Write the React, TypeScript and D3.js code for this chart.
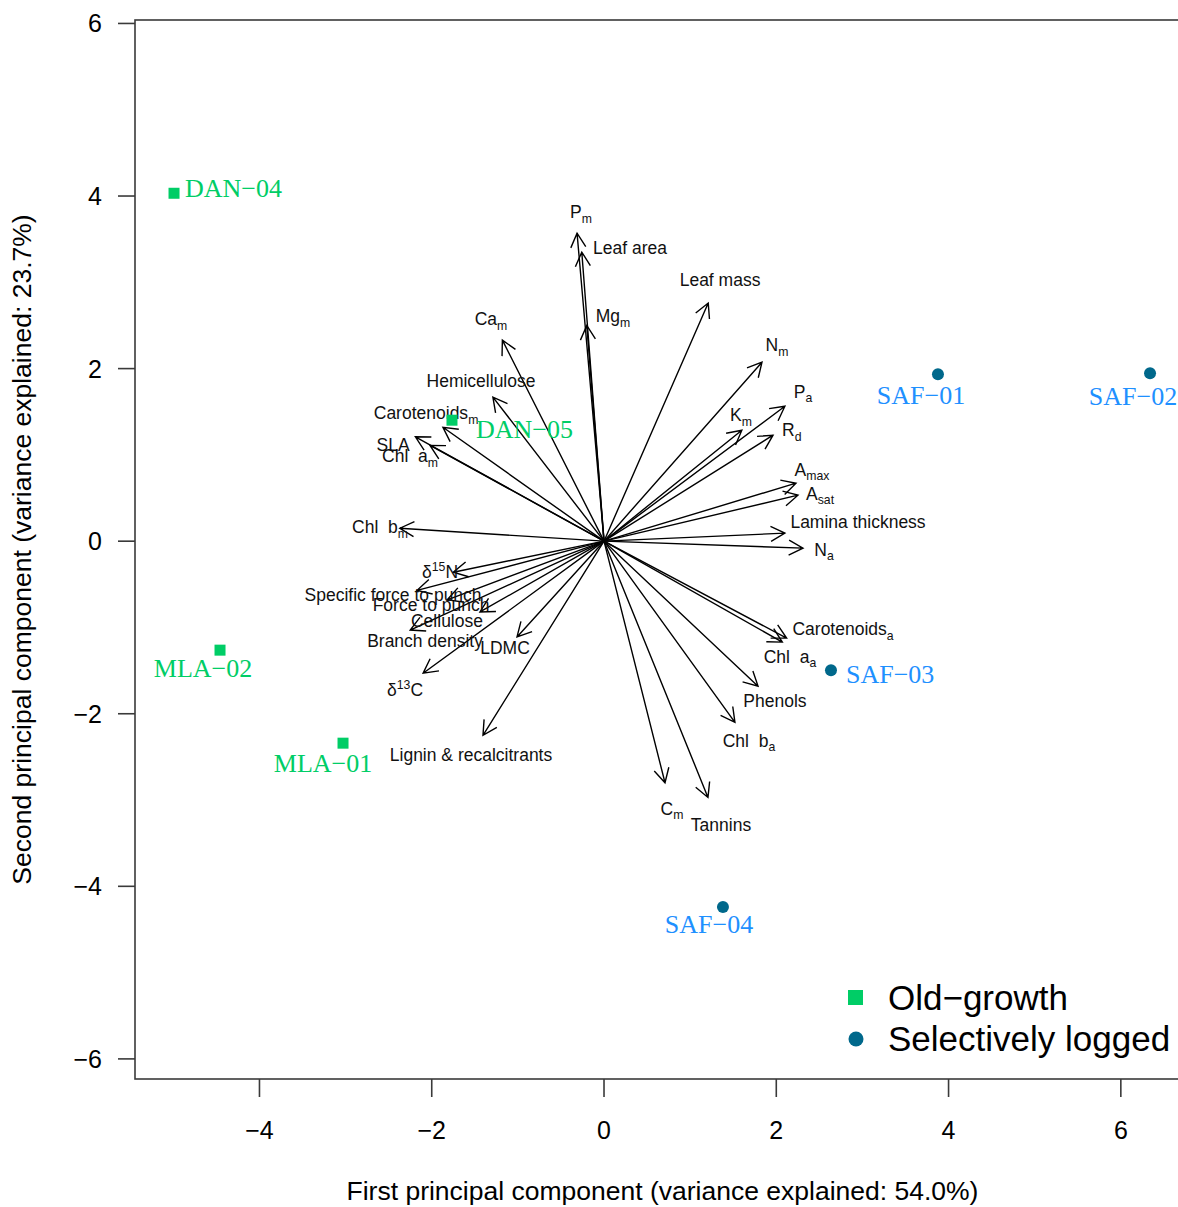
import React from "react";
import * as d3 from "d3";

// ---- Trait loadings (arrows) ----
const traitNames = [
  "P_{m}", "Leaf area", "Mg_{m}", "Leaf mass", "Ca_{m}", "Hemicellulose",
  "Carotenoids_{m}", "SLA", "Chl\u00A0\u00A0a_{m}", "Chl\u00A0\u00A0b_{m}", "δ^{15}N",
  "Specific force to punch", "Force to punch", "Cellulose", "Branch density", "LDMC",
  "δ^{13}C", "Lignin & recalcitrants", "N_{m}", "P_{a}", "K_{m}", "R_{d}",
  "A_{max}", "A_{sat}", "Lamina thickness", "N_{a}", "Carotenoids_{a}",
  "Chl\u00A0\u00A0a_{a}", "Phenols", "Chl\u00A0\u00A0b_{a}", "C_{m}", "Tannins",
];
const traitPC1 = [
  -0.313, -0.258, -0.2, 1.21, -1.18, -1.29,
  -1.87, -2.19, -2.02, -2.37, -1.75,
  -2.17, -1.82, -2.25, -1.44, -1.01,
  -2.1, -1.405, 1.834, 2.1, 1.6, 1.962,
  2.229, 2.252, 2.1, 2.31, 2.12,
  2.07, 1.788, 1.52, 0.708, 1.207,
];
const traitPC2 = [
  3.57, 3.35, 2.5, 2.76, 2.33, 1.67,
  1.32, 1.21, 1.11, 0.15, -0.36,
  -0.57, -0.68, -1.03, -0.82, -1.11,
  -1.53, -2.25, 2.074, 1.564, 1.286, 1.228,
  0.672, 0.533, 0.093, -0.081, -1.124,
  -1.17, -1.68, -2.1, -2.8, -2.97,
];
// label centres (data units)
const traitLabelPC1 = [
  -0.267, 0.302, 0.104, 1.347, -1.312, -1.428,
  -2.066, -2.449, -2.252, -2.6, -1.904,
  -2.449, -2.008, -1.823, -2.078, -1.149,
  -2.31, -1.544, 2.008, 2.31, 1.59, 2.18,
  2.415, 2.508, 2.949, 2.554, 2.775,
  2.159, 1.985, 1.683, 0.789, 1.358,
];
const traitLabelPC2 = [
  3.812, 3.395, 2.607, 3.024, 2.572, 1.854,
  1.483, 1.112, 0.985, 0.162, -0.359,
  -0.626, -0.742, -0.927, -1.159, -1.24,
  -1.727, -2.48, 2.271, 1.727, 1.46, 1.286,
  0.823, 0.545, 0.22, -0.104, -1.02,
  -1.344, -1.854, -2.317, -3.105, -3.291,
];

// ---- Site scores ----
const siteNames = ["DAN−04", "DAN−05", "MLA−02", "MLA−01", "SAF−01", "SAF−02", "SAF−03", "SAF−04"];
const siteGroup = ["old", "old", "old", "old", "logged", "logged", "logged", "logged"];
const sitePC1 = [-4.992, -1.765, -4.458, -3.03, 3.877, 6.339, 2.635, 1.381];
const sitePC2 = [4.032, 1.402, -1.263, -2.341, 1.935, 1.947, -1.495, -4.241];
const siteLabelPC1 = [-4.864, -1.486, -4.655, -3.262, 3.68, 6.141, 2.809, 1.219];
const siteLabelPC2 = [3.986, 1.194, -1.576, -2.677, 1.587, 1.576, -1.645, -4.542];
const siteLabelAnchor = ["start", "start", "middle", "middle", "middle", "middle", "start", "middle"];

const xTicks = [-4, -2, 0, 2, 4, 6];
const yTicks = [-6, -4, -2, 0, 2, 4, 6];

const legendLabels = ["Old−growth", "Selectively logged"];
const xTitle = "First principal component (variance explained: 54.0%)";
const yTitle = "Second principal component (variance explained: 23.7%)";

const GREEN = "#00CD66";
const TEAL = "#00688B";
const BLUE = "#1E90FF";
const SANS = "'Liberation Sans', Arial, Helvetica, sans-serif";
const SERIF = "'Liberation Serif', 'Times New Roman', serif";

function rich(label: string, base: number) {
  const out: React.ReactNode[] = [];
  const re = /([_^])\{([^}]*)\}/g;
  let last = 0;
  let shift = 0;
  let k = 0;
  let m: RegExpExecArray | null;
  while ((m = re.exec(label))) {
    if (m.index > last) {
      out.push(
        <tspan key={k++} dy={-shift} fontSize={base}>
          {label.slice(last, m.index)}
        </tspan>
      );
      shift = 0;
    }
    const d = m[1] === "_" ? base * 0.24 : -base * 0.42;
    out.push(
      <tspan key={k++} dy={d - shift} fontSize={base * 0.7}>
        {m[2]}
      </tspan>
    );
    shift = d;
    last = re.lastIndex;
  }
  if (last < label.length) {
    out.push(
      <tspan key={k++} dy={-shift} fontSize={base}>
        {label.slice(last)}
      </tspan>
    );
  }
  return out;
}

export default function App() {
  const W = 1178;
  const H = 1207;
  const left = 135, right = 1190, top = 20, bottom = 1079;
  const x = d3.scaleLinear().domain([-5.445, 6.803]).range([left, right]);
  const y = d3.scaleLinear().domain([-6.233, 6.04]).range([bottom, top]);
  const fmt = (v: number) => String(v).replace("-", "−");

  const ox = x(0), oy = y(0);
  const headLen = 16;
  const headAng = (28 * Math.PI) / 180;

  const arrows = traitNames.map((name, i) => {
    const tx = x(traitPC1[i]);
    const ty = y(traitPC2[i]);
    const ang = Math.atan2(ty - oy, tx - ox);
    const a1 = ang + Math.PI - headAng;
    const a2 = ang + Math.PI + headAng;
    const p = d3.path();
    p.moveTo(ox, oy);
    p.lineTo(tx, ty);
    p.moveTo(tx + headLen * Math.cos(a1), ty + headLen * Math.sin(a1));
    p.lineTo(tx, ty);
    p.lineTo(tx + headLen * Math.cos(a2), ty + headLen * Math.sin(a2));
    return { name, d: p.toString(), lx: x(traitLabelPC1[i]), ly: y(traitLabelPC2[i]) };
  });

  const fs = 17.5;

  return (
    <svg
      width={W}
      height={H}
      style={{ position: "absolute", left: 0, top: 0, background: "#fff" }}
    >
      <rect x={0} y={0} width={W} height={H} fill="#fff" />
      {/* frame */}
      <rect x={left} y={top} width={right - left} height={bottom - top} fill="none" stroke="#3a3a3a" strokeWidth={1.6} />
      {/* y axis */}
      {yTicks.map((t) => (
        <g key={"y" + t}>
          <line x1={left - 17} x2={left} y1={y(t)} y2={y(t)} stroke="#3a3a3a" strokeWidth={1.6} />
          <text x={left - 33} y={y(t) + 9} textAnchor="end" fontFamily={SANS} fontSize={25}>
            {fmt(t)}
          </text>
        </g>
      ))}
      {/* x axis */}
      {xTicks.map((t) => (
        <g key={"x" + t}>
          <line x1={x(t)} x2={x(t)} y1={bottom} y2={bottom + 18} stroke="#3a3a3a" strokeWidth={1.6} />
          <text x={x(t)} y={bottom + 60} textAnchor="middle" fontFamily={SANS} fontSize={25}>
            {fmt(t)}
          </text>
        </g>
      ))}
      <text x={(left + right) / 2} y={1200} textAnchor="middle" fontFamily={SANS} fontSize={26.5}>
        {xTitle}
      </text>
      <text
        transform={`translate(31,${(top + bottom) / 2}) rotate(-90)`}
        textAnchor="middle"
        fontFamily={SANS}
        fontSize={26.5}
      >
        {yTitle}
      </text>

      {/* arrows */}
      {arrows.map((a) => (
        <path key={"a" + a.name} d={a.d} fill="none" stroke="#000" strokeWidth={1.4} />
      ))}
      {arrows.map((a) => (
        <text key={"t" + a.name} x={a.lx} y={a.ly + fs * 0.35} textAnchor="middle" fontFamily={SANS} fontSize={fs} fill="#111">
          {rich(a.name, fs)}
        </text>
      ))}

      {/* sites */}
      {siteNames.map((s, i) => {
        const cx = x(sitePC1[i]);
        const cy = y(sitePC2[i]);
        return siteGroup[i] === "old" ? (
          <rect key={"m" + s} x={cx - 5.5} y={cy - 5.5} width={11} height={11} fill={GREEN} />
        ) : (
          <circle key={"m" + s} cx={cx} cy={cy} r={6} fill={TEAL} />
        );
      })}
      {siteNames.map((s, i) => (
        <text
          key={"l" + s}
          x={x(siteLabelPC1[i])}
          y={y(siteLabelPC2[i])}
          textAnchor={siteLabelAnchor[i] as any}
          fontFamily={SERIF}
          fontSize={26}
          fill={siteGroup[i] === "old" ? GREEN : BLUE}
        >
          {s}
        </text>
      ))}

      {/* legend */}
      <rect x={848} y={990} width={15} height={15} fill={GREEN} />
      <circle cx={856} cy={1039} r={7.5} fill={TEAL} />
      <text x={888} y={1010} fontFamily={SANS} fontSize={35}>
        {legendLabels[0]}
      </text>
      <text x={888} y={1051} fontFamily={SANS} fontSize={35}>
        {legendLabels[1]}
      </text>
    </svg>
  );
}
